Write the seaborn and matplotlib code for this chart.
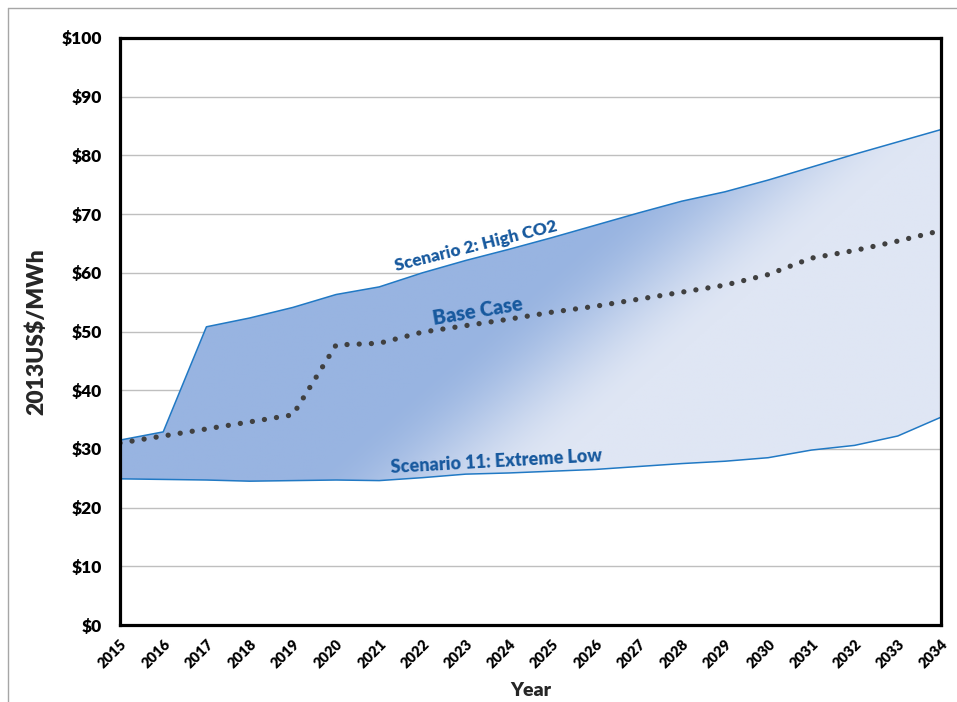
import numpy as np
import pandas as pd
import matplotlib
matplotlib.use("Agg")
import matplotlib.pyplot as plt
from matplotlib.patches import PathPatch
from matplotlib.path import Path
from matplotlib.lines import Line2D
import seaborn as sns

# ---------------- data ----------------
years = list(range(2015, 2035))
high_co2 = [31.5, 32.9, 50.8, 52.3, 54.1, 56.3, 57.6, 60.0, 62.1, 64.0,
            66.0, 68.1, 70.2, 72.2, 73.8, 75.8, 78.0, 80.2, 82.3, 84.4]
base_case = [31.0, 32.2, 33.4, 34.6, 35.8, 47.7, 48.0, 49.9, 51.0, 52.1,
             53.3, 54.3, 55.5, 56.7, 57.9, 59.7, 62.5, 63.8, 65.4, 67.2]
extreme_low = [24.9, 24.8, 24.7, 24.5, 24.6, 24.7, 24.6, 25.1, 25.7, 25.9,
               26.2, 26.5, 27.0, 27.5, 27.9, 28.5, 29.8, 30.6, 32.2, 35.4]
y_ticks = [0, 10, 20, 30, 40, 50, 60, 70, 80, 90, 100]
y_tick_labels = ["$" + str(v) for v in y_ticks]
label_high = "Scenario 2: High CO2"
label_base = "Base Case"
label_low = "Scenario 11: Extreme Low"
x_title = "Year"
y_title = "2013US$/MWh"

df = pd.DataFrame({"year": years, "high": high_co2, "base": base_case, "low": extreme_low})

# ---------------- style ----------------
sns.set_theme(style="white")
plt.rcParams["font.family"] = ["Lato", "DejaVu Sans"]
plt.rcParams["font.weight"] = "bold"

W, H = 957, 702
fig = plt.figure(figsize=(W / 100, H / 100), dpi=100)
fig.patch.set_facecolor("white")
ax = fig.add_axes([120 / W, 77 / H, 821 / W, 587 / H])
ax.set_facecolor("white")

ax.set_xlim(2015, 2034)
ax.set_ylim(0, 100)

# gradient band between low and high scenarios
nx, ny = 500, 400
gx = np.linspace(2015, 2034, nx)
gy = np.linspace(0, 100, ny)
GX, GY = np.meshgrid(gx, gy)
px = (GX - 2015) / 19 * 821
py = (100 - GY) / 100 * 587
t = px * 0.656 + py * 0.755
tc, hw = 530.0, 75.0
f = np.clip((t - (tc - hw)) / (2 * hw), 0, 1)
f = f * f * (3 - 2 * f)
dark = np.array([0x98, 0xB4, 0xE1]) / 255.0
light = np.array([0xDF, 0xE6, 0xF4]) / 255.0
img = dark[None, None, :] * (1 - f[..., None]) + light[None, None, :] * f[..., None]
im = ax.imshow(img, extent=[2015, 2034, 0, 100], origin="lower", aspect="auto",
               interpolation="bilinear", zorder=1)
verts = list(zip(years, high_co2)) + list(zip(years[::-1], extreme_low[::-1]))
verts.append(verts[0])
codes = [Path.MOVETO] + [Path.LINETO] * (len(verts) - 2) + [Path.CLOSEPOLY]
clip = PathPatch(Path(verts, codes), transform=ax.transData, facecolor="none", edgecolor="none")
ax.add_patch(clip)
im.set_clip_path(clip)

edge_col = "#2179C4"
sns.lineplot(data=df, x="year", y="high", ax=ax, color=edge_col, linewidth=1.1, zorder=3)
sns.lineplot(data=df, x="year", y="low", ax=ax, color=edge_col, linewidth=1.1, zorder=3)
ax.plot([2034, 2034], [extreme_low[-1], high_co2[-1]], color=edge_col, lw=1.0, zorder=3)
ax.plot([2015, 2015], [extreme_low[0], high_co2[0]], color=edge_col, lw=1.0, zorder=3)
sns.lineplot(data=df, x="year", y="base", ax=ax, color="#404040", linewidth=3.8,
             dashes=False, zorder=4)
ax.lines[-1].set_linestyle((0, (0.01, 2.3)))
ax.lines[-1].set_dash_capstyle("round")

# grid
ax.set_yticks(y_ticks)
ax.set_yticklabels(y_tick_labels)
ax.yaxis.grid(True, color="#BFBFBF", linewidth=1.0, zorder=0)
ax.xaxis.grid(False)
ax.set_axisbelow(True)
ax.set_xticks(years)
ax.set_xticklabels([str(y) for y in years], rotation=45, ha="right",
                   rotation_mode="anchor", fontsize=10.5, fontweight="heavy")
for lab in ax.get_yticklabels():
    lab.set_fontsize(12.5)
    lab.set_fontweight("heavy")
ax.tick_params(axis="both", which="major", direction="out", length=5, width=1,
               color="#A0A0A0", labelcolor="black")
ax.tick_params(axis="y", pad=8)
ax.tick_params(axis="x", pad=4)

for s in ax.spines.values():
    s.set_visible(True)
    s.set_color("black")
    s.set_linewidth(2.3)
    s.set_zorder(6)

ax.set_xlabel(x_title, fontsize=14, fontweight="heavy", labelpad=8)
ax.set_ylabel(y_title, fontsize=16.5, fontweight="heavy", labelpad=10)

txt_col = "#17599E"
ax.text(2023.24, 64.6, label_high, rotation=14, color=txt_col, fontsize=12.4,
        fontweight="heavy", ha="center", va="center", zorder=7)
ax.text(2023.29, 53.5, label_base, rotation=9.5, color=txt_col, fontsize=14.3,
        fontweight="heavy", ha="center", va="center", zorder=7)
ax.text(2023.70, 27.8, label_low, rotation=3.2, color=txt_col, fontsize=13,
        fontweight="heavy", ha="center", va="center", zorder=7)

# outer chart-area border (top and left visible)
fig.add_artist(Line2D([8 / W, 1.0], [1 - 8 / H, 1 - 8 / H], transform=fig.transFigure,
                      color="#A6A6A6", lw=1.0))
fig.add_artist(Line2D([8 / W, 8 / W], [0.0, 1 - 8 / H], transform=fig.transFigure,
                      color="#A6A6A6", lw=1.0))

fig.savefig("out.png", dpi=100, facecolor="white")
